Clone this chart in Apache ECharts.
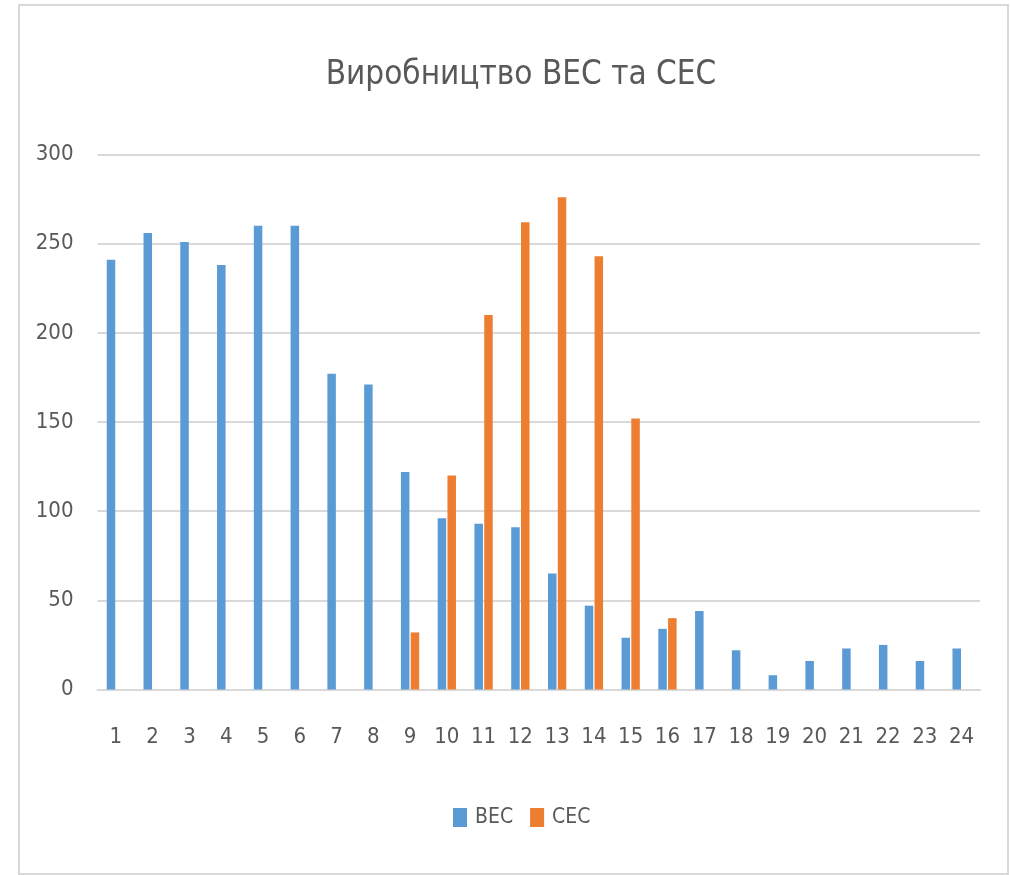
<!DOCTYPE html>
<html>
<head>
<meta charset="utf-8">
<title>Виробництво ВЕС та СЕС</title>
<script src="https://cdn.jsdelivr.net/npm/echarts@6/dist/echarts.min.js"></script>
<style>
  html, body { margin: 0; padding: 0; background: #fff; }
  #chart { width: 1010px; height: 875px; }
</style>
</head>
<body>
<div id="chart"></div>
<script>
const hours = ["1", "2", "3", "4", "5", "6", "7", "8", "9", "10", "11", "12",
  "13", "14", "15", "16", "17", "18", "19", "20", "21", "22", "23", "24"];
const wind = [241, 256, 251, 238, 260, 260, 177, 171, 122, 96, 93, 91,
  65, 47, 29, 34, 44, 22, 8, 16, 23, 25, 16, 23];
const solar = [null, null, null, null, null, null, null, null, 32, 120, 210, 262,
  276, 243, 152, 40, null, null, null, null, null, null, null, null];
const yTicks = { min: 0, max: 300, step: 50 };

const font = "'DejaVu Sans Condensed', 'Noto Sans', sans-serif";
const textColor = "#595959";

const chart = echarts.init(document.getElementById("chart"));

chart.setOption({
  animation: false,
  textStyle: { fontFamily: font, color: textColor },
  graphic: [
    {
      type: "rect",
      shape: { x: 19, y: 5, width: 989, height: 869 },
      style: { fill: "none", stroke: "#D9D9D9", lineWidth: 2 },
      silent: true
    }
  ],
  title: {
    text: "Виробництво ВЕС та СЕС",
    left: 516,
    top: 54,
    textAlign: "center",
    textStyle: { fontFamily: font, fontSize: 33, fontWeight: "normal", color: textColor }
  },
  legend: {
    data: ["ВЕС", "СЕС"],
    left: 448,
    top: 802,
    icon: "rect",
    itemWidth: 14,
    itemHeight: 19,
    itemGap: 17,
    textStyle: { fontFamily: font, fontSize: 21, color: textColor, padding: [0, 0, 0, 3] }
  },
  grid: { left: 97.5, right: 30, top: 154.5, bottom: 185.5, containLabel: false },
  xAxis: {
    type: "category",
    data: hours,
    axisLine: { lineStyle: { color: "#D9D9D9", width: 2 } },
    axisTick: { show: false },
    axisLabel: { fontFamily: font, fontSize: 22, color: textColor, margin: 37, interval: 0 }
  },
  yAxis: {
    type: "value",
    min: yTicks.min,
    max: yTicks.max,
    interval: yTicks.step,
    axisLine: { show: false },
    axisTick: { show: false },
    splitLine: { lineStyle: { color: "#D9D9D9", width: 2 } },
    axisLabel: { fontFamily: font, fontSize: 22, color: textColor, margin: 24 }
  },
  series: [
    {
      name: "ВЕС",
      type: "bar",
      data: wind,
      barWidth: 8.5,
      barGap: "15%",
      itemStyle: { color: "#5B9BD5" }
    },
    {
      name: "СЕС",
      type: "bar",
      data: solar,
      barWidth: 8.5,
      barGap: "15%",
      itemStyle: { color: "#ED7D31" }
    }
  ]
});
</script>
</body>
</html>
